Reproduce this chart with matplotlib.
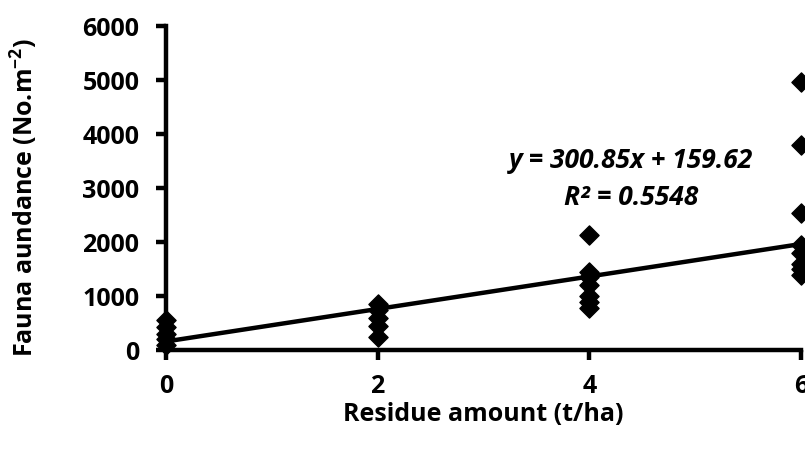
import numpy as np
import matplotlib.pyplot as plt

# ── Dados ──────────────────────────────────────────────────────────────────────
residue = [0, 0, 0, 0, 0,
           2, 2, 2, 2, 2,
           4, 4, 4, 4, 4, 4, 4,
           6, 6, 6, 6, 6, 6, 6, 6]
fauna = [100, 200, 300, 420, 550,
         250, 450, 600, 750, 850,
         780, 900, 1000, 1200, 1350, 1450, 2130,
         1400, 1500, 1600, 1800, 1950, 2540, 3800, 4960]

slope = 300.85
intercept = 159.62
r2 = 0.5548

x_ticks = [0, 2, 4, 6]
y_ticks = [0, 1000, 2000, 3000, 4000, 5000, 6000]

plt.rcParams["font.family"] = ["Open Sans", "DejaVu Sans"]
plt.rcParams["font.weight"] = "bold"
plt.rcParams["mathtext.fontset"] = "custom"
plt.rcParams["mathtext.rm"] = "Open Sans:bold"
plt.rcParams["mathtext.bf"] = "Open Sans:bold"

FS = 18

fig = plt.figure(figsize=(8.05, 4.5), dpi=100)
ax = fig.add_axes([0.206, 0.222, 0.789, 0.72])

ax.scatter(residue, fauna, marker="D", s=95, color="black", zorder=3, clip_on=False)

# Linha de tendência linear
xl = np.array([min(x_ticks), max(x_ticks)])
ax.plot(xl, slope * xl + intercept, color="black", linewidth=3.2, zorder=2)

ax.set_xlim(0, 6)
ax.set_ylim(0, 6000)
ax.set_xticks(x_ticks)
ax.set_yticks(y_ticks)

for side in ["top", "right"]:
    ax.spines[side].set_visible(False)
for side in ["left", "bottom"]:
    ax.spines[side].set_linewidth(3.2)

ax.tick_params(axis="both", direction="out", length=7, width=3.2,
               labelsize=FS, pad=12)
ax.tick_params(axis="x", pad=10)
for lab in ax.get_xticklabels() + ax.get_yticklabels():
    lab.set_fontweight("bold")

ax.set_xlabel("Residue amount (t/ha)", fontsize=FS, fontweight="bold")
ax.set_ylabel("Fauna aundance (No.m$^{\\mathrm{-2}}$)", fontsize=FS,
              fontweight="bold")
ax.xaxis.set_label_coords(0.5, -0.16)
ax.yaxis.set_label_coords(-0.198, 0.47)

ax.text(4.39, 3520, f"y = {slope}x + {intercept}", fontsize=19,
        fontweight="bold", fontstyle="italic", ha="center", va="center")
ax.text(4.4, 2830, f"R² = {r2}", fontsize=19,
        fontweight="bold", fontstyle="italic", ha="center", va="center")

fig.savefig("out.png", dpi=100)
